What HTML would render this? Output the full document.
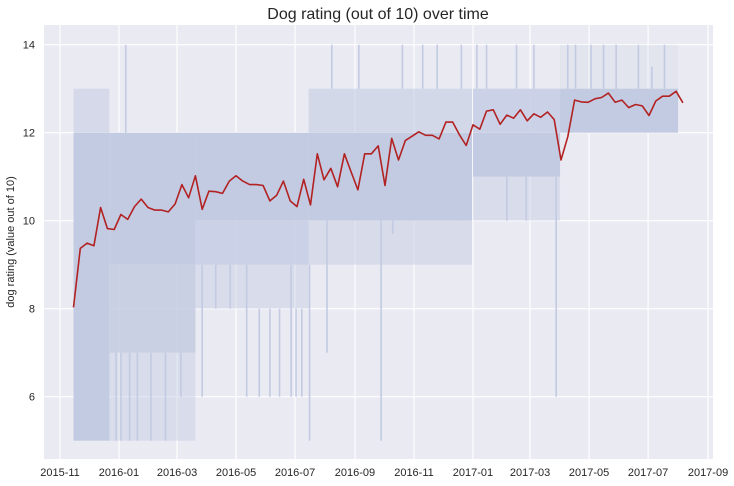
<!DOCTYPE html>
<html><head><meta charset="utf-8"><style>
html,body{margin:0;padding:0;background:#fff;}
svg{display:block;font-family:"Liberation Sans",Arial,sans-serif;}
</style></head><body>
<svg id="chart" width="734" height="486" viewBox="0 0 734 486">
<rect x="44" y="25" width="669" height="434" fill="#eaeaf2"/>
<g id="grid"></g>
<g id="raw"></g>
<g id="mean"></g>
<g id="axes"></g>
<text x="378" y="19" text-anchor="middle" font-size="16" fill="#262626">Dog rating (out of 10) over time</text>
<text transform="translate(14,242) rotate(-90)" text-anchor="middle" font-size="11" fill="#262626">dog rating (value out of 10)</text>
</svg>
<script>
const weekStart = "2015-11-15";
const weeklyMeans = [8.03,9.37,9.49,9.43,10.30,9.82,9.80,10.14,10.03,10.32,10.49,10.30,10.24,10.24,10.20,10.38,10.82,10.52,11.02,10.26,10.67,10.66,10.62,10.90,11.02,10.90,10.82,10.82,10.80,10.45,10.58,10.90,10.45,10.32,10.94,10.36,11.52,10.93,11.19,10.77,11.52,11.11,10.70,11.52,11.52,11.70,10.80,11.87,11.38,11.82,11.92,12.02,11.94,11.94,11.86,12.24,12.24,11.95,11.71,12.18,12.08,12.49,12.52,12.19,12.40,12.33,12.52,12.27,12.43,12.35,12.47,12.30,11.38,11.91,12.74,12.70,12.69,12.77,12.80,12.90,12.69,12.74,12.57,12.64,12.61,12.39,12.72,12.83,12.83,12.94,12.68];
const bandStarts = ["2015-11-15","2015-11-15","2015-12-22","2015-12-22","2015-12-22","2016-03-20","2016-03-20","2016-03-20","2016-07-15","2016-07-15","2016-07-15","2017-01-01","2017-01-01","2017-01-01","2017-04-01","2017-04-01"];
const bandEnds   = ["2015-12-22","2015-12-22","2016-03-20","2016-03-20","2016-03-20","2016-07-15","2016-07-15","2016-07-15","2016-12-31","2016-12-31","2016-12-31","2017-04-01","2017-04-01","2017-04-01","2017-08-01","2017-08-01"];
const bandLows   = [5,12,9,7,5,10,9,8,10,12,9,11,12,10,12,13];
const bandHighs  = [12,13,12,9,7,12,10,9,12,13,10,12,13,11,13,14];
const bandDensity= [1,0.55,1,0.85,0.45,1,0.8,0.45,1,0.6,0.5,1,0.8,0.45,1,0.2];
const spikeDates = ["2016-01-08","2016-03-27","2016-05-12","2016-06-27","2016-07-16","2016-08-03","2016-09-28","2016-10-10","2016-12-15","2017-02-05","2017-02-25","2017-03-28","2017-04-09","2017-04-17","2017-05-03","2017-05-16","2017-05-29","2017-06-21","2017-07-05","2017-07-18","2016-08-08","2016-09-05","2016-10-20","2016-11-10","2016-11-25","2016-12-20","2017-01-05","2017-01-15","2017-02-15","2017-03-05","2015-12-29","2016-01-03","2016-01-12","2016-01-20","2016-02-03","2016-02-18","2016-03-05","2016-04-10","2016-04-25","2016-05-25","2016-06-05","2016-06-15","2016-07-02","2016-07-08"];
const spikeLows  = [12,6,6,6,5,7,5,9.7,10,10,10,6,13,13,13,13,13,13,13,13,13,13,13,13,13,13,13,13,13,13,5,5,5,5,5,5,6,8,8,6,6,6,6,6];
const spikeHighs = [14,9,9,9,9,10,10,10,11,11,11,11,14,14,14,14,14,14,13.5,14,14,14,14,14,14,14,14,14,14,14,7,7,7,7,7,7,7,9,9,8,8,8,8,8];
const yTicks = [6,8,10,12,14];
const xTicks = ["2015-11","2016-01","2016-03","2016-05","2016-07","2016-09","2016-11","2017-01","2017-03","2017-05","2017-07","2017-09"];

const NS="http://www.w3.org/2000/svg";
const origin=Date.UTC(2015,10,1);
function days(s){const p=s.split("-").map(Number);return (Date.UTC(p[0],p[1]-1,p[2]||1)-origin)/86400000;}
function xScale(d){return 60+d*0.9672;}
function yScale(v){return 44.7+(14-v)*44;}
function mk(tag,attrs,parent){const e=document.createElementNS(NS,tag);for(const k in attrs)e.setAttribute(k,attrs[k]);parent.appendChild(e);return e;}
const grid=document.getElementById("grid"),raw=document.getElementById("raw"),mean=document.getElementById("mean"),axes=document.getElementById("axes");

yTicks.forEach(v=>{
  const g=mk("line",{x1:44,x2:713,y1:yScale(v),y2:yScale(v),stroke:"#fff","stroke-width":1.2},grid);
  
  
  const t=mk("text",{x:35,y:yScale(v)+4,"text-anchor":"end","font-size":11,fill:"#262626"},axes);
  t.textContent=v;
  
  
});
xTicks.forEach(s=>{
  const x=xScale(days(s+"-01"));
  const g=mk("line",{x1:x,x2:x,y1:25,y2:459,stroke:"#fff","stroke-width":1.2},grid);
  
  
  const t=mk("text",{x:x,y:476,"text-anchor":"middle","font-size":11,fill:"#262626"},axes);
  t.textContent=s;
  
  
});
bandStarts.forEach((s,i)=>{
  const x1=xScale(days(bandStarts[i])),x2=xScale(days(bandEnds[i]));
  const r=mk("rect",{x:x1,y:yScale(bandHighs[i]),width:x2-x1,height:yScale(bandLows[i])-yScale(bandHighs[i]),fill:"#c3cbe2","fill-opacity":bandDensity[i]},raw);
  
  
});
spikeDates.forEach((s,i)=>{
  const x=xScale(days(s));
  const l=mk("line",{x1:x,x2:x,y1:yScale(spikeHighs[i]),y2:yScale(spikeLows[i]),stroke:"#c3cbe2","stroke-width":1.6},raw);
  
  
});
const d0=days(weekStart);
const pts=weeklyMeans.map((v,i)=>xScale(d0+7*i).toFixed(1)+","+yScale(v).toFixed(1)).join(" ");
const pl=mk("polyline",{points:pts,fill:"none",stroke:"#b22222","stroke-width":1.6,"stroke-linejoin":"round"},mean);


</script>
</body></html>
